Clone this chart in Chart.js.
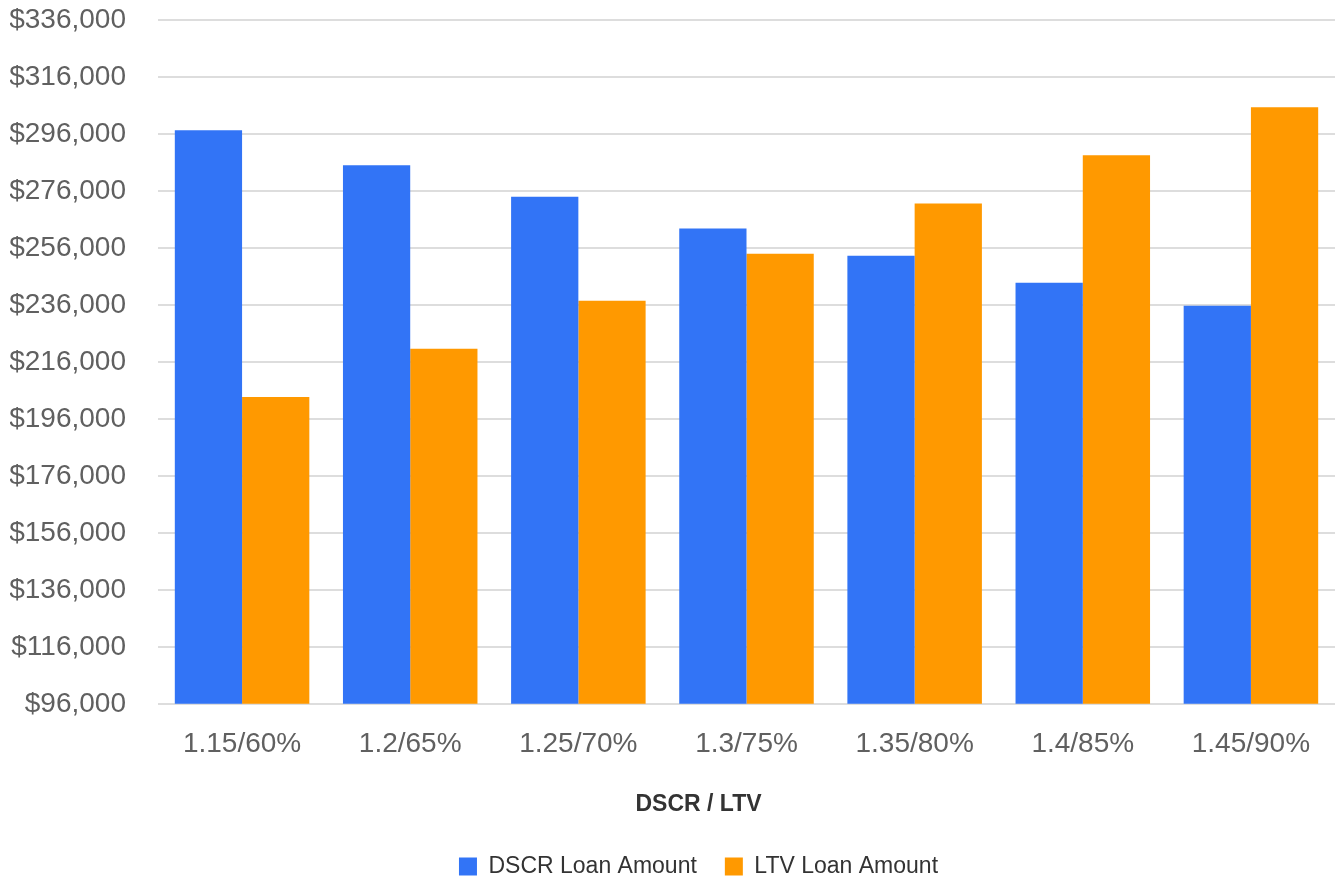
<!DOCTYPE html>
<html lang="en">
<head>
    <meta charset="UTF-8">
    <title>DSCR / LTV Loan Amount</title>
    <style>
        body {
            margin: 0;
            background-color: white;
        }
        #chartBox {
            width: 1335px;
            height: 877px;
        }
    </style>
</head>
<body>
    <div id="chartBox">
        <canvas id="loanChart"></canvas>
    </div>

    <script src="https://cdn.jsdelivr.net/npm/chart.js"></script>
    <script>
        const categories = ['1.15/60%', '1.2/65%', '1.25/70%', '1.3/75%', '1.35/80%', '1.4/85%', '1.45/90%'];
        const dscrLoan = [297300, 285000, 274000, 262800, 253300, 243800, 235700];
        const ltvLoan = [203700, 220600, 237500, 254000, 271600, 288500, 305400];
        const yMin = 96000;
        const yMax = 336000;
        const yStep = 20000;

        const fontFamily = '"Liberation Sans", Arial, Helvetica, sans-serif';

        // the original centres title and legend a bit right of the canvas middle
        const shiftBottomBoxes = {
            id: 'shiftBottomBoxes',
            afterLayout(chart) {
                [chart.legend, chart.titleBlock].forEach(box => {
                    if (!box) return;
                    box.left += 26;
                    box.right += 26;
                });
            }
        };

        const ctx = document.getElementById('loanChart').getContext('2d');
        new Chart(ctx, {
            type: 'bar',
            data: {
                labels: categories,
                datasets: [
                    {
                        label: 'DSCR Loan Amount',
                        data: dscrLoan,
                        backgroundColor: '#3274F6'
                    },
                    {
                        label: 'LTV Loan Amount',
                        data: ltvLoan,
                        backgroundColor: '#FF9900'
                    }
                ]
            },
            options: {
                responsive: true,
                maintainAspectRatio: false,
                animation: false,
                layout: {
                    padding: { left: 10, right: 0, top: 20, bottom: -11 }
                },
                datasets: {
                    bar: {
                        categoryPercentage: 0.8,
                        barPercentage: 1.0,
                        borderWidth: 0
                    }
                },
                scales: {
                    x: {
                        grid: { display: false, drawTicks: false },
                        border: { display: false },
                        ticks: {
                            color: '#606060',
                            padding: 24,
                            font: { family: fontFamily, size: 28 }
                        }
                    },
                    y: {
                        min: yMin,
                        max: yMax,
                        grid: { color: '#DDDDDD', lineWidth: 2, drawTicks: false },
                        border: { display: false },
                        afterFit: (scale) => {
                            scale.width = 148;
                            scale.paddingTop = 0;
                            scale.paddingBottom = 0;
                        },
                        ticks: {
                            stepSize: yStep,
                            color: '#606060',
                            padding: 32,
                            font: { family: fontFamily, size: 28 },
                            callback: (v) => '$' + v.toLocaleString('en-US')
                        }
                    }
                },
                plugins: {
                    title: {
                        display: true,
                        text: 'DSCR / LTV',
                        position: 'bottom',
                        weight: 500,
                        color: '#333333',
                        font: { family: fontFamily, size: 23, weight: 'bold' },
                        padding: { top: 5, bottom: 9 }
                    },
                    legend: {
                        position: 'bottom',
                        labels: {
                            boxWidth: 18,
                            boxHeight: 18,
                            padding: 28,
                            color: '#333333',
                            font: { family: fontFamily, size: 23 }
                        }
                    },
                    tooltip: { enabled: false }
                }
            },
            plugins: [shiftBottomBoxes]
        });
    </script>
</body>
</html>
